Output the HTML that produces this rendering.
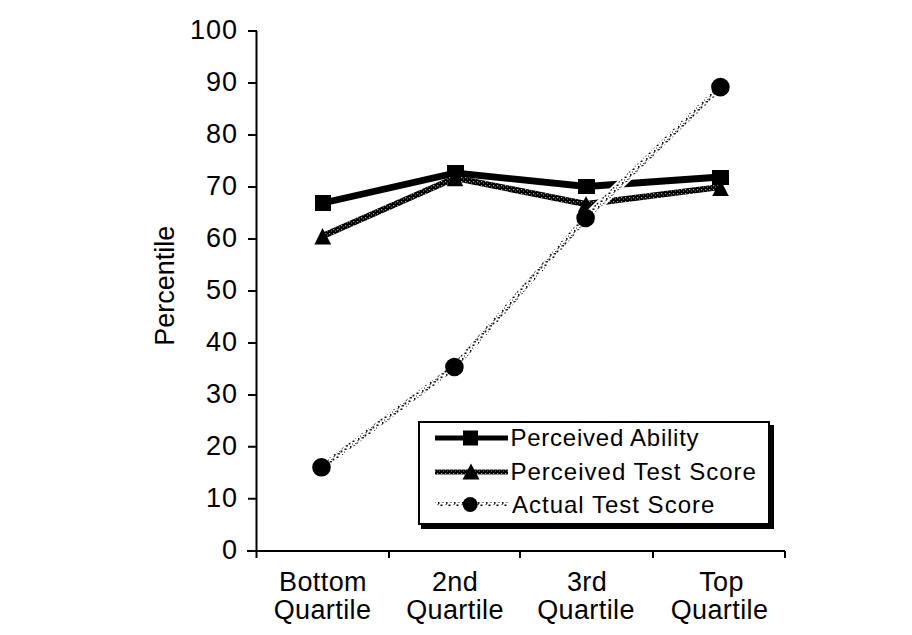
<!DOCTYPE html>
<html><head><meta charset="utf-8">
<style>
html,body{margin:0;padding:0;background:#fff;width:912px;height:635px;overflow:hidden}
svg{display:block}
text{font-family:"Liberation Sans",sans-serif;fill:#000;stroke:none}
</style></head>
<body>
<svg width="912" height="635" viewBox="0 0 912 635">
<rect width="912" height="635" fill="#fff"/>
<!-- axes -->
<g stroke="#000" stroke-width="2" fill="none">
<path d="M256.5 31 V551"/>
<path d="M247 551 H785"/>
<path d="M248 31.0 H257 M248 83.0 H257 M248 135.0 H257 M248 186.9 H257 M248 238.9 H257 M248 290.9 H257 M248 342.9 H257 M248 394.9 H257 M248 446.8 H257 M248 498.8 H257"/>
<path d="M256.5 551 V558 M389 551 V558 M520 551 V558 M653 551 V558 M785 551 V558"/>
</g>
<!-- y labels -->
<g font-size="27" text-anchor="end" letter-spacing="1">
<text x="238" y="38.7">100</text>
<text x="238" y="90.7">90</text>
<text x="238" y="142.7">80</text>
<text x="238" y="194.6">70</text>
<text x="238" y="246.6">60</text>
<text x="238" y="298.6">50</text>
<text x="238" y="350.6">40</text>
<text x="238" y="402.6">30</text>
<text x="238" y="454.5">20</text>
<text x="238" y="506.5">10</text>
<text x="238" y="558.5">0</text>
</g>
<text font-size="27" text-anchor="middle" transform="translate(173.5 285.8) rotate(-90)">Percentile</text>
<!-- x labels -->
<g font-size="27" text-anchor="middle" letter-spacing="0.4">
<text x="323" y="591">Bottom</text><text x="322.5" y="619">Quartile</text>
<text x="455" y="591">2nd</text><text x="455" y="619">Quartile</text>
<text x="587" y="591">3rd</text><text x="586" y="619">Quartile</text>
<text x="721.5" y="591">Top</text><text x="719.5" y="619">Quartile</text>
</g>
<!-- series: perceived ability -->
<path d="M323 203 L455.5 173 L586.5 186.5 L720.4 177" stroke="#000" stroke-width="6.8" fill="none"/>
<g fill="#000">
<rect x="315" y="195" width="16" height="16"/>
<rect x="447" y="165" width="17" height="16"/>
<rect x="578" y="179" width="17" height="15"/>
<rect x="712" y="170" width="17" height="15"/>
</g>
<!-- perceived test score -->
<path d="M322.5 236.2 L455 178 L586 204 L720.5 187" stroke="url(#wsp)" stroke-width="6.2" fill="none"/>
<g fill="#000">
<path d="M314.4 244.5 L322.5 228 L331.2 244.5Z"/>
<path d="M446.8 186.2 L455 170 L463.3 186.2Z"/>
<path d="M577.8 212.2 L586 196 L594.3 212.2Z"/>
<path d="M712.3 196 L720.5 179.7 L728.8 196Z"/>
</g>
<!-- actual test score -->
<defs>
<pattern id="spk" patternUnits="userSpaceOnUse" width="8" height="8">
<rect width="8" height="8" fill="#fff"/>
<rect x="0.5" y="0.5" width="2" height="1.5" fill="#000"/>
<rect x="4.5" y="2.5" width="1.8" height="2" fill="#111"/>
<rect x="1.5" y="5" width="2.5" height="1.5" fill="#222"/>
<rect x="6" y="6" width="1.5" height="1.8" fill="#000"/>
<rect x="5.5" y="0" width="1.2" height="1.2" fill="#333"/>
<rect x="3" y="3" width="1" height="1" fill="#555"/>
<rect x="0" y="3.5" width="1" height="1.2" fill="#444"/>
</pattern>
<pattern id="wsp" patternUnits="userSpaceOnUse" width="4" height="4">
<rect width="4" height="4" fill="#000"/>
<rect x="1" y="1" width="1.2" height="1.2" fill="#aaa"/>
<rect x="3" y="2.6" width="1" height="1" fill="#888"/>
</pattern>
</defs>
<path d="M321.5 467.3 L454.4 367 L585.6 218 L720.4 87.1" stroke="#fff" stroke-width="9" fill="none"/>
<path d="M321.5 467.3 L454.4 367 L585.6 218 L720.4 87.1" stroke="url(#spk)" stroke-width="5.5" fill="none"/>
<g fill="#000">
<circle cx="321.5" cy="467.3" r="9.3"/>
<circle cx="454.4" cy="367" r="9.3"/>
<circle cx="585.6" cy="218" r="9.3"/>
<circle cx="720.4" cy="87.1" r="9.3"/>
</g>
<!-- legend -->
<rect x="421" y="425" width="353" height="104" fill="#000"/>
<rect x="419" y="422" width="350" height="102" fill="#fff" stroke="#000" stroke-width="2"/>
<path d="M435 438 H508" stroke="#000" stroke-width="5"/>
<rect x="463" y="430.5" width="15" height="15" fill="#000"/>
<path d="M435 472 H508" stroke="url(#wsp)" stroke-width="5"/>
<path d="M462.5 479.5 L471 463.5 L479.5 479.5Z" fill="#000"/>
<path d="M435 504 H508" stroke="url(#spk)" stroke-width="4"/>
<circle cx="470.2" cy="504.5" r="7.5" fill="#000"/>
<g font-size="24" letter-spacing="1">
<text x="510.5" y="446" letter-spacing="0.75">Perceived Ability</text>
<text x="510.5" y="479.5">Perceived Test Score</text>
<text x="512" y="513">Actual Test Score</text>
</g>
</svg>
</body></html>
